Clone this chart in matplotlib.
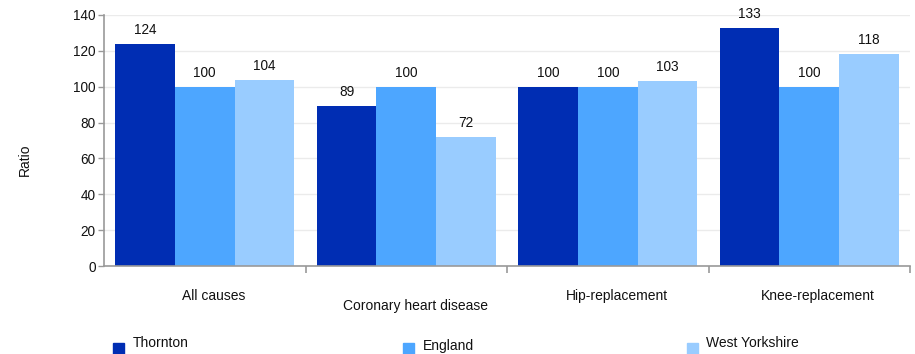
import matplotlib
matplotlib.use("Agg")
import matplotlib.pyplot as plt
from matplotlib.patches import Rectangle
import numpy as np

categories = ["All causes", "Coronary heart disease", "Hip-replacement", "Knee-replacement"]
series_names = ["Thornton", "England", "West Yorkshire"]
thornton = [124, 89, 100, 133]
england = [100, 100, 100, 100]
west_yorkshire = [104, 72, 103, 118]
yticks = [0, 20, 40, 60, 80, 100, 120, 140]

colors = ["#002db3", "#4da6ff", "#99ccff"]
plt.rcParams['font.family'] = ['Liberation Sans', 'DejaVu Sans']

W, H = 915, 354
fig = plt.figure(figsize=(W/100, H/100), dpi=100)
L, R, B, T = 104, 910, 266, 15
ax = fig.add_axes([L/W, 1-B/H, (R-L)/W, (B-T)/H])

x = np.arange(len(categories))
bw = 0.296
for i, (vals, c) in enumerate(zip([thornton, england, west_yorkshire], colors)):
    pos = x + (i-1)*bw
    ax.bar(pos, vals, width=bw, color=c, zorder=2)
    for p, v in zip(pos, vals):
        ax.annotate(str(v), (p, v), xytext=(0, 5), textcoords="offset points",
                    ha="center", va="bottom", fontsize=9.8, color="#111111")

ax.set_xlim(-0.5, len(categories)-0.5)
ax.set_ylim(0, 140)
ax.set_yticks(yticks)
ax.set_yticklabels([str(t) for t in yticks], fontsize=9.8, color="#111111")
ax.yaxis.grid(True, color="#ebebeb", linewidth=1, zorder=0)
ax.set_axisbelow(True)
for s in ["top", "right"]:
    ax.spines[s].set_visible(False)
for s in ["left", "bottom"]:
    ax.spines[s].set_color("#999999")
    ax.spines[s].set_linewidth(1.2)
ax.tick_params(axis="y", length=4, color="#999999", width=1, pad=2)
ax.set_xticks(np.arange(0.5, len(categories)-0.5, 1).tolist() + [len(categories)-0.5])
ax.set_xticklabels([])
ax.tick_params(axis="x", length=5, color="#999999", width=1.2)

# category labels (staggered like reference)
label_y = [296, 306, 296, 296]
for i, (cat, ly) in enumerate(zip(categories, label_y)):
    xp = L + (i + 0.5) * (R-L)/len(categories) + 9
    fig.text(xp/W, 1-ly/H, cat, ha="center", va="center", fontsize=10, color="#111111")

fig.text(25/W, 1-160/H, "Ratio", rotation=90, ha="center", va="center", fontsize=10, color="#111111")

# legend
leg = [(113, 348, 133, 343), (403, 348, 423, 346), (687, 348, 706, 343)]
for (sx, sy, tx, ty), name, c in zip(leg, series_names, colors):
    fig.patches.append(Rectangle((sx/W, 1-(sy+5.5)/H), 11/W, 11/H, transform=fig.transFigure,
                                 color=c, figure=fig))
    fig.text(tx/W, 1-ty/H, name, ha="left", va="center", fontsize=10, color="#111111")

fig.savefig("out.png", dpi=100)
